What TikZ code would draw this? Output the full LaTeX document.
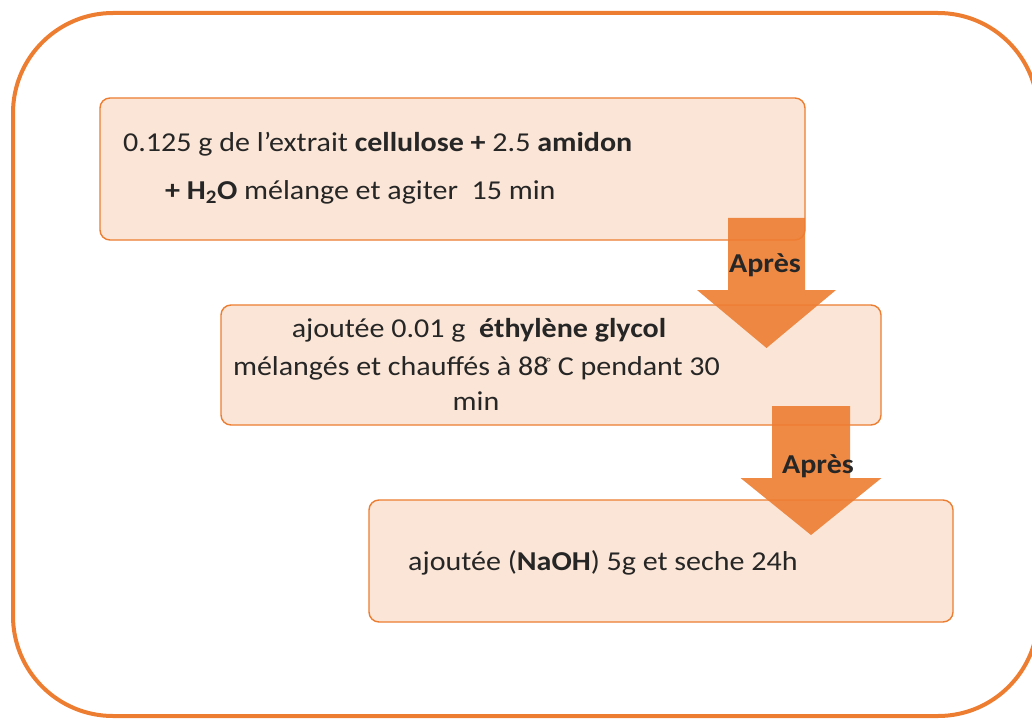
\documentclass[tikz,border=0pt]{standalone}
\usepackage{fontspec}
\setmainfont{Carlito}[FakeStretch=1.1]
\usetikzlibrary{calc}
\definecolor{accent}{HTML}{ED7D31}
\definecolor{boxfill}{HTML}{FBE5D6}
\tikzset{
  frame/.style={draw=accent, line width=4pt, rounded corners=100pt},
  stepbox/.style={draw=accent, fill=boxfill, line width=1.4pt, rounded corners=10pt, inner sep=0pt},
  txt/.style={inner sep=0pt, font=\fontsize{27.3}{32}\selectfont, text=black!85},
  bigarrow/.style={fill=accent, fill opacity=0.9, draw=none},
}
\newcommand{\downarrowshape}[4]{%
  \path[bigarrow] (#1) ++(-#2,0) -- ++(2*#2,0) -- ++(0,72) -- ++(#3-#2,0) -- ($(#1)+(0,#4)$) -- ($(#1)+(-#3,72)$) -- ++(#3-#2,0) -- cycle;}
\begin{document}
\begin{tikzpicture}[x=1pt,y=-1pt]
\useasboundingbox (0,0) rectangle (1032,719);
\draw[frame] (13,13) rectangle (1038,716);
% boxes
\node[stepbox, minimum width=705pt, minimum height=142pt] (b1) at (452.5,169) {};
\node[stepbox, minimum width=660pt, minimum height=120pt] (b2) at (551,365) {};
\node[stepbox, minimum width=584pt, minimum height=122pt] (b3) at (661,561) {};
% texts
\node[txt, anchor=base west] (t11) at (123,152) {0.125 g de l’extrait \textbf{cellulose +} 2.5 \textbf{amidon}};
\node[txt, anchor=base west] (t12) at (165,200) {\textbf{+ H\textsubscript{2}O} mélange et agiter\ \ 15 min};
\node[txt, anchor=base] (t21) at (479,337) {ajoutée 0.01 g\ \ \textbf{éthylène glycol}};
\node[txt, anchor=base] (t22) at (476.5,375) {mélangés et chauffés à 88\kern-2pt\raisebox{9pt}{\fontsize{12}{12}\selectfont °}\ C pendant\ 30};
\node[txt, anchor=base] (t23) at (476,410) {min};
\node[txt, anchor=base west] (t31) at (408,570) {ajoutée (\textbf{NaOH}) 5g et seche 24h};
% arrows
\coordinate (a1) at (766.5,218);
\coordinate (a2) at (811,406);
\downarrowshape{a1}{38.5}{69.5}{130}
\downarrowshape{a2}{39}{70.5}{129}
\node[txt, anchor=base] (l1) at (765,272) {\textbf{Après}};
\node[txt, anchor=base] (l2) at (818,473) {\textbf{Après}};
\end{tikzpicture}
\end{document}
